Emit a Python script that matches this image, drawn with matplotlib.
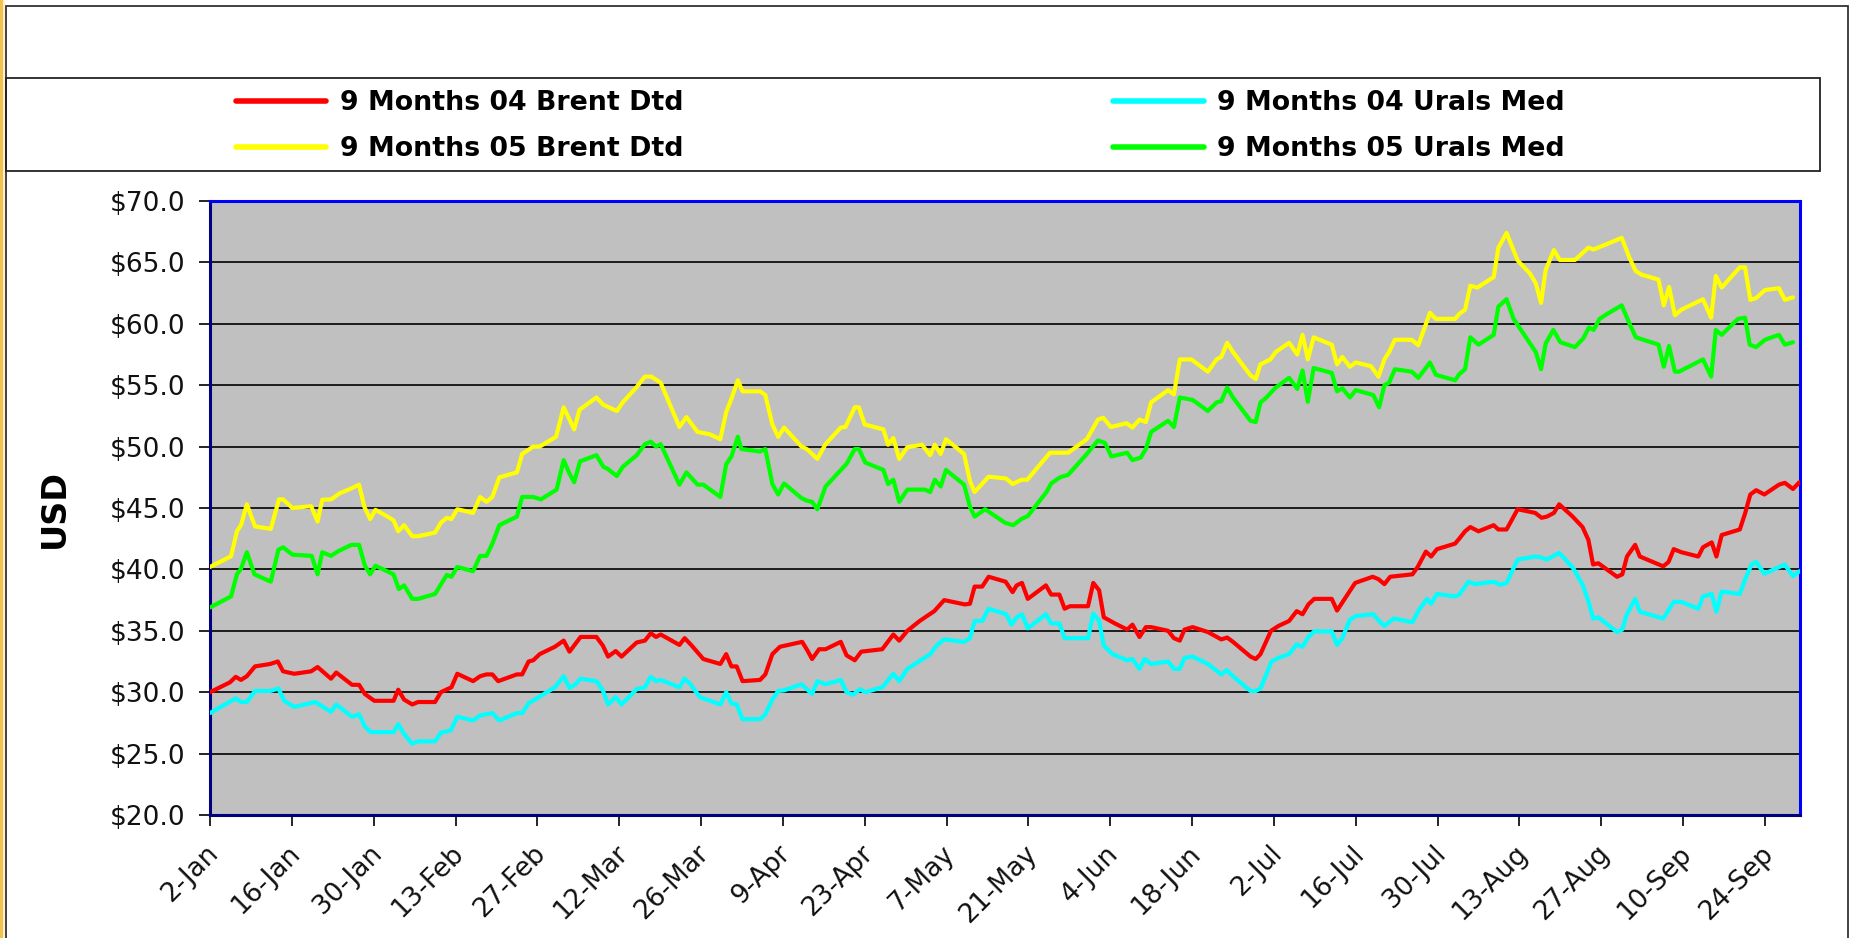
import matplotlib
matplotlib.use("Agg")
import matplotlib.pyplot as plt
import matplotlib.transforms as mtransforms
from matplotlib.patches import Rectangle
from matplotlib.ticker import FuncFormatter, FixedLocator, MultipleLocator

# ---------------- data (x = days after 2-Jan) ----------------
brent04_day = [0, 3.4, 4.4, 5.3, 6.3, 7.7, 10.3, 11.6, 12.5, 14.4, 17.3, 18.4, 20.7, 21.6, 24.3, 25.5, 26.5, 28.1, 31.4, 32.2, 33.2, 34.6, 35.6, 38.5, 39.5, 41.3, 42.3, 45.0, 46.2, 47.3, 48.3, 49.3, 52.5, 53.4, 54.5, 55.3, 56.4, 59.0, 60.5, 61.5, 63.4, 66.1, 67.2, 68.1, 69.4, 70.4, 73.0, 74.4, 75.4, 76.3, 77.1, 80.3, 81.2, 82.4, 84.4, 87.3, 88.3, 89.2, 90.1, 91.1, 94.1, 95.0, 96.2, 97.5, 98.9, 101.3, 102.2, 103.0, 104.2, 105.3, 107.9, 108.9, 110.3, 111.4, 115.0, 116.9, 117.9, 119.3, 121.4, 123.9, 125.6, 129.1, 130.0, 130.8, 132.1, 133.2, 136.1, 137.3, 138.0, 138.9, 139.9, 143.0, 143.9, 145.3, 146.2, 147.1, 150.2, 151.1, 152.1, 152.9, 154.8, 156.9, 157.8, 159.0, 160.1, 161.0, 163.9, 164.9, 165.9, 166.7, 168.1, 170.7, 173.0, 174.0, 175.0, 178.0, 178.9, 179.7, 181.5, 182.8, 184.6, 185.9, 186.9, 187.9, 188.9, 191.9, 192.8, 193.7, 195.9, 198.9, 199.9, 200.9, 201.9, 205.7, 206.6, 208.0, 208.9, 209.9, 213.0, 213.7, 214.7, 215.6, 217.0, 219.6, 220.4, 221.8, 223.7, 226.7, 227.8, 228.7, 229.9, 230.8, 233.0, 234.8, 235.8, 236.6, 237.5, 240.7, 241.6, 242.4, 243.8, 244.6, 248.6, 249.5, 250.4, 251.7, 254.6, 255.4, 256.9, 257.7, 258.6, 261.7, 262.6, 263.5, 264.5, 265.9, 268.4, 269.4, 270.8, 271.9]
brent04_usd = [30.0, 30.8, 31.25, 31.0, 31.3, 32.1, 32.3, 32.5, 31.7, 31.5, 31.7, 32.05, 31.1, 31.6, 30.6, 30.6, 29.85, 29.3, 29.3, 30.2, 29.4, 29.0, 29.2, 29.2, 30.0, 30.4, 31.5, 30.9, 31.3, 31.45, 31.45, 30.9, 31.45, 31.45, 32.5, 32.6, 33.1, 33.7, 34.2, 33.3, 34.5, 34.5, 33.8, 32.9, 33.35, 32.9, 34.05, 34.2, 34.8, 34.5, 34.7, 33.85, 34.4, 33.8, 32.7, 32.3, 33.1, 32.1, 32.1, 30.9, 31.0, 31.45, 33.1, 33.7, 33.85, 34.1, 33.4, 32.7, 33.5, 33.5, 34.1, 33.0, 32.6, 33.3, 33.5, 34.7, 34.2, 35.0, 35.8, 36.6, 37.5, 37.15, 37.2, 38.6, 38.6, 39.4, 39.0, 38.15, 38.7, 38.9, 37.6, 38.7, 37.95, 37.95, 36.8, 37.0, 37.0, 38.9, 38.3, 36.1, 35.6, 35.1, 35.5, 34.5, 35.3, 35.3, 35.0, 34.4, 34.2, 35.1, 35.3, 34.9, 34.3, 34.45, 34.1, 32.9, 32.7, 33.1, 35.0, 35.4, 35.8, 36.6, 36.35, 37.15, 37.6, 37.6, 36.65, 37.3, 38.9, 39.4, 39.2, 38.8, 39.4, 39.6, 40.2, 41.45, 41.05, 41.65, 42.1, 42.5, 43.1, 43.45, 43.1, 43.6, 43.25, 43.25, 44.9, 44.6, 44.2, 44.3, 44.6, 45.3, 44.35, 43.45, 42.4, 40.4, 40.5, 39.4, 39.6, 41.05, 42.0, 41.05, 40.25, 40.6, 41.65, 41.4, 41.05, 41.8, 42.2, 41.05, 42.8, 43.25, 44.55, 46.1, 46.45, 46.1, 46.9, 47.05, 46.55, 47.1]

urals04_day = [0, 4.4, 5.3, 6.3, 7.7, 10.3, 11.7, 12.7, 14.4, 18.0, 20.7, 21.6, 24.3, 25.5, 26.5, 27.5, 31.4, 32.2, 33.2, 34.6, 35.6, 38.5, 39.5, 41.2, 42.3, 45.0, 46.2, 48.3, 49.5, 52.5, 53.4, 54.5, 55.9, 59.0, 60.5, 61.5, 62.4, 63.4, 66.1, 67.2, 68.1, 69.4, 70.4, 73.0, 74.4, 75.4, 76.3, 77.1, 80.3, 81.2, 82.1, 83.8, 87.3, 88.3, 89.2, 90.1, 91.1, 94.1, 95.0, 96.2, 97.2, 98.2, 101.2, 103.0, 103.9, 105.3, 107.9, 108.9, 110.0, 111.2, 112.1, 115.0, 116.9, 117.9, 119.3, 123.2, 124.3, 125.6, 129.0, 130.0, 130.8, 132.1, 133.2, 136.2, 137.1, 138.0, 138.9, 139.9, 143.0, 143.9, 145.3, 146.2, 150.2, 151.1, 152.1, 152.9, 154.4, 156.9, 157.8, 159.0, 159.9, 161.0, 163.9, 164.9, 165.9, 166.7, 168.1, 170.7, 173.0, 173.9, 175.0, 178.0, 178.9, 179.7, 181.6, 182.8, 184.6, 185.9, 186.9, 187.9, 188.9, 191.9, 192.8, 193.7, 195.0, 196.0, 199.0, 200.0, 200.9, 202.5, 205.7, 206.8, 208.2, 208.9, 209.9, 213.0, 213.7, 215.3, 216.4, 219.6, 220.7, 221.8, 223.7, 226.7, 227.5, 228.7, 230.8, 233.2, 234.8, 235.8, 236.6, 237.5, 240.7, 241.6, 242.3, 243.8, 244.6, 248.6, 250.4, 251.7, 254.6, 255.4, 256.9, 257.7, 258.6, 261.7, 262.7, 263.7, 264.5, 265.9, 269.4, 270.8, 271.9]
urals04_usd = [28.3, 29.5, 29.2, 29.2, 30.1, 30.1, 30.3, 29.3, 28.8, 29.2, 28.4, 29.0, 28.0, 28.2, 27.2, 26.75, 26.75, 27.4, 26.6, 25.8, 26.0, 26.0, 26.7, 26.9, 28.0, 27.7, 28.1, 28.3, 27.7, 28.3, 28.3, 29.1, 29.5, 30.4, 31.3, 30.35, 30.6, 31.1, 30.9, 30.15, 29.0, 29.6, 29.0, 30.25, 30.4, 31.25, 30.9, 31.0, 30.4, 31.1, 30.7, 29.6, 29.0, 30.0, 29.1, 29.0, 27.8, 27.8, 28.2, 29.4, 30.1, 30.15, 30.65, 29.85, 30.9, 30.65, 31.0, 30.0, 29.8, 30.25, 30.0, 30.4, 31.5, 30.9, 31.9, 33.1, 33.8, 34.3, 34.1, 34.4, 35.8, 35.8, 36.8, 36.35, 35.5, 36.1, 36.35, 35.2, 36.35, 35.6, 35.6, 34.4, 34.4, 36.4, 35.8, 33.8, 33.1, 32.6, 32.7, 31.9, 32.7, 32.3, 32.5, 31.9, 31.9, 32.8, 32.9, 32.3, 31.45, 31.8, 31.3, 30.1, 30.1, 30.3, 32.5, 32.8, 33.1, 33.9, 33.7, 34.5, 34.95, 34.95, 33.85, 34.4, 35.9, 36.2, 36.35, 35.8, 35.4, 36.0, 35.7, 36.7, 37.6, 37.2, 38.0, 37.8, 37.95, 39.0, 38.8, 39.0, 38.75, 38.9, 40.8, 41.05, 41.0, 40.8, 41.35, 40.1, 38.75, 37.4, 36.0, 36.1, 34.9, 35.1, 36.25, 37.6, 36.55, 36.0, 37.35, 37.35, 36.8, 37.8, 38.0, 36.55, 38.2, 38.0, 39.3, 40.4, 40.6, 39.65, 40.4, 39.45, 39.85]

brent05_day = [0, 3.6, 4.6, 5.3, 6.3, 7.7, 10.4, 11.8, 12.5, 14.1, 17.3, 18.4, 19.2, 20.7, 22.2, 24.2, 25.5, 26.4, 27.4, 28.3, 30.0, 31.4, 32.2, 33.2, 34.6, 35.6, 38.5, 39.5, 40.5, 41.3, 42.3, 45.0, 46.2, 47.3, 48.3, 49.5, 52.5, 53.4, 55.3, 56.4, 59.2, 60.5, 62.3, 63.2, 66.1, 67.3, 69.6, 70.6, 72.9, 74.4, 75.5, 77.1, 80.3, 81.5, 83.4, 85.5, 87.3, 88.3, 89.2, 90.3, 91.1, 94.1, 95.0, 96.2, 97.2, 98.2, 101.2, 102.1, 103.9, 105.3, 107.9, 108.7, 110.3, 111.0, 112.0, 115.2, 116.0, 116.9, 117.9, 119.3, 121.8, 123.2, 124.0, 125.0, 125.9, 129.0, 130.0, 130.8, 133.2, 136.2, 137.3, 138.8, 139.8, 143.7, 146.8, 150.0, 151.9, 152.8, 154.1, 156.8, 157.8, 159.0, 160.1, 161.0, 163.9, 164.9, 165.9, 167.9, 170.7, 172.2, 173.0, 174.0, 175.0, 178.0, 178.9, 179.7, 181.4, 182.3, 184.6, 186.0, 186.9, 187.8, 188.8, 191.9, 192.8, 193.7, 195.0, 196.0, 198.6, 199.9, 200.9, 201.7, 202.7, 205.6, 206.7, 208.7, 209.7, 213.0, 213.7, 214.7, 215.6, 216.8, 219.6, 220.4, 221.8, 223.7, 225.8, 226.8, 227.7, 228.5, 229.9, 230.9, 233.5, 235.8, 236.7, 239.0, 241.5, 242.8, 243.9, 244.9, 247.8, 248.7, 249.6, 250.6, 251.7, 255.4, 256.8, 257.6, 258.6, 261.7, 262.6, 263.5, 264.5, 266.0, 268.4, 269.4, 270.8]
brent05_usd = [40.2, 41.07, 43.1, 43.6, 45.3, 43.5, 43.3, 45.7, 45.7, 45.0, 45.15, 43.9, 45.67, 45.7, 46.2, 46.6, 46.9, 45.1, 44.1, 44.85, 44.4, 44.0, 43.1, 43.6, 42.7, 42.7, 43.0, 43.8, 44.2, 44.1, 44.9, 44.6, 45.9, 45.5, 45.9, 47.5, 47.9, 49.4, 50.0, 50.0, 50.8, 53.2, 51.4, 53.0, 54.0, 53.4, 52.9, 53.6, 54.8, 55.7, 55.7, 55.2, 51.6, 52.4, 51.2, 51.0, 50.6, 52.8, 53.9, 55.4, 54.5, 54.5, 54.2, 51.8, 50.8, 51.55, 50.0, 49.8, 49.0, 50.2, 51.55, 51.6, 53.2, 53.2, 51.8, 51.4, 50.15, 50.7, 49.0, 49.95, 50.15, 49.3, 50.15, 49.4, 50.6, 49.4, 47.2, 46.3, 47.55, 47.4, 46.95, 47.3, 47.3, 49.5, 49.5, 50.6, 52.2, 52.35, 51.6, 51.9, 51.55, 52.2, 52.0, 53.6, 54.6, 54.25, 57.1, 57.1, 56.1, 57.1, 57.3, 58.45, 57.7, 55.8, 55.5, 56.7, 57.1, 57.7, 58.45, 57.5, 59.1, 57.1, 58.9, 58.3, 56.7, 57.3, 56.5, 56.85, 56.55, 55.7, 57.1, 57.7, 58.7, 58.7, 58.25, 60.9, 60.4, 60.4, 60.8, 61.15, 63.1, 62.95, 63.8, 66.2, 67.4, 65.15, 64.1, 63.3, 61.7, 64.4, 66.0, 65.2, 65.2, 66.2, 66.05, 66.5, 67.0, 65.4, 64.3, 64.0, 63.6, 61.5, 63.0, 60.7, 61.15, 62.0, 60.5, 63.9, 62.95, 64.6, 64.6, 61.95, 62.1, 62.75, 62.9, 61.95, 62.15]

urals05_day = [0, 3.6, 4.6, 5.3, 6.3, 7.6, 10.4, 11.7, 12.5, 14.1, 17.4, 18.4, 19.2, 20.7, 22.0, 24.2, 25.5, 26.5, 27.4, 28.3, 31.4, 32.3, 33.2, 34.6, 35.6, 38.5, 40.5, 41.3, 42.3, 45.0, 46.2, 47.3, 48.3, 49.5, 52.5, 53.4, 55.3, 56.6, 59.3, 60.5, 61.5, 62.3, 63.3, 66.1, 67.3, 68.0, 69.6, 70.6, 73.0, 74.4, 75.4, 76.3, 77.1, 80.3, 81.5, 83.4, 84.4, 87.3, 88.3, 89.2, 90.3, 90.9, 94.1, 95.0, 96.2, 97.2, 98.2, 101.2, 102.1, 103.0, 103.9, 105.3, 108.9, 110.3, 111.0, 112.1, 115.2, 116.0, 116.9, 117.9, 119.3, 122.3, 123.2, 124.0, 125.0, 125.9, 129.0, 130.0, 130.8, 132.6, 136.0, 137.4, 138.8, 139.9, 143.1, 143.9, 145.4, 146.8, 150.0, 151.9, 153.1, 154.2, 156.9, 157.8, 159.2, 160.1, 161.0, 163.9, 164.9, 165.9, 168.1, 170.7, 172.2, 173.0, 174.0, 175.0, 178.0, 178.9, 179.7, 180.5, 182.3, 184.6, 186.0, 186.9, 187.8, 188.8, 191.9, 192.8, 193.7, 195.0, 196.0, 199.0, 200.0, 200.9, 201.7, 202.7, 205.6, 206.7, 208.7, 209.7, 213.0, 213.7, 214.7, 215.6, 217.0, 219.6, 220.4, 221.8, 223.0, 225.8, 226.8, 227.7, 228.5, 229.8, 231.0, 233.5, 234.9, 235.9, 236.7, 237.7, 239.0, 241.5, 242.8, 243.9, 247.8, 248.7, 249.6, 250.6, 251.3, 255.4, 256.8, 257.6, 258.6, 261.4, 262.6, 263.4, 264.5, 266.0, 268.4, 269.4, 270.8]
urals05_usd = [36.9, 37.8, 39.6, 40.05, 41.4, 39.6, 39.0, 41.6, 41.8, 41.2, 41.1, 39.6, 41.4, 41.1, 41.5, 42.0, 42.0, 40.3, 39.6, 40.3, 39.6, 38.4, 38.7, 37.6, 37.6, 38.0, 39.55, 39.4, 40.2, 39.85, 41.1, 41.1, 42.1, 43.6, 44.3, 45.9, 45.9, 45.7, 46.5, 48.9, 47.8, 47.1, 48.8, 49.3, 48.35, 48.2, 47.6, 48.35, 49.3, 50.2, 50.4, 50.0, 50.2, 46.9, 47.9, 46.9, 46.9, 45.9, 48.55, 49.2, 50.8, 49.8, 49.6, 49.8, 46.95, 46.1, 47.0, 45.8, 45.6, 45.5, 44.9, 46.75, 48.6, 49.8, 49.8, 48.7, 48.1, 46.95, 47.3, 45.5, 46.5, 46.5, 46.3, 47.3, 46.75, 48.1, 46.9, 45.1, 44.3, 44.9, 43.8, 43.6, 44.1, 44.35, 46.3, 47.0, 47.5, 47.7, 49.4, 50.5, 50.3, 49.2, 49.5, 48.9, 49.1, 49.8, 51.2, 52.1, 51.6, 54.0, 53.8, 52.9, 53.6, 53.7, 54.8, 54.0, 52.1, 52.0, 53.6, 53.9, 54.8, 55.6, 54.7, 56.2, 53.65, 56.4, 56.0, 54.5, 54.75, 54.0, 54.6, 54.2, 53.2, 55.0, 55.2, 56.3, 56.1, 55.6, 56.85, 55.85, 55.4, 55.9, 56.3, 58.9, 58.3, 59.1, 61.4, 62.0, 60.4, 58.4, 57.7, 56.3, 58.4, 59.5, 58.5, 58.1, 58.8, 59.7, 59.5, 60.4, 60.8, 61.5, 60.05, 58.9, 58.3, 56.5, 58.2, 56.1, 56.1, 57.1, 55.7, 59.5, 59.1, 60.4, 60.5, 58.3, 58.1, 58.7, 59.1, 58.3, 58.5]

series_labels = ["9 Months 04 Brent Dtd", "9 Months 04 Urals Med",
                 "9 Months 05 Brent Dtd", "9 Months 05 Urals Med"]
tick_days = [0, 14, 28, 42, 56, 70, 84, 98, 112, 126, 140, 154, 168, 182, 196, 210, 224, 238, 252, 266]
tick_labels = ["2-Jan", "16-Jan", "30-Jan", "13-Feb", "27-Feb", "12-Mar", "26-Mar", "9-Apr",
               "23-Apr", "7-May", "21-May", "4-Jun", "18-Jun", "2-Jul", "16-Jul", "30-Jul",
               "13-Aug", "27-Aug", "10-Sep", "24-Sep"]
y_label = "USD"

# ---------------- figure ----------------
W, H = 1853, 938
fig = plt.figure(figsize=(W / 100, H / 100), dpi=100)
fig.patch.set_facecolor("white")

def fx(px):
    return px / W

def fy(py):
    return 1 - py / H

# outer chart frame and golden left strip
fig.patches.append(Rectangle((0, 0), fx(2.5), 1, transform=fig.transFigure,
                             facecolor="#F2C14E", edgecolor="none", zorder=0))
fig.patches.append(Rectangle((fx(2.5), 0), fx(2.5), 1, transform=fig.transFigure,
                             facecolor="#FFF1C8", edgecolor="none", zorder=0))
fig.patches.append(Rectangle((fx(5.5), fy(945)), fx(1848 - 5.5), fy(6) - fy(945),
                             transform=fig.transFigure, facecolor="none",
                             edgecolor="#333333", linewidth=1.3, zorder=1))
# legend box
fig.patches.append(Rectangle((fx(5.5), fy(171)), fx(1820 - 5.5), fy(78) - fy(171),
                             transform=fig.transFigure, facecolor="none",
                             edgecolor="#222222", linewidth=1.3, zorder=1))

ax = fig.add_axes([fx(210), fy(815), fx(1590), (815 - 201) / H])
ax.set_facecolor("#C0C0C0")

colors = ["#FF0000", "#00FFFF", "#FFFF00", "#00FF00"]
lw = 3.0
kw = dict(lw=lw, solid_joinstyle="round", solid_capstyle="round", zorder=3)
l1, = ax.plot(brent04_day, brent04_usd, color=colors[0], label=series_labels[0], **kw)
l2, = ax.plot(urals04_day, urals04_usd, color=colors[1], label=series_labels[1], **kw)
l3, = ax.plot(brent05_day, brent05_usd, color=colors[2], label=series_labels[2], **kw)
l4, = ax.plot(urals05_day, urals05_usd, color=colors[3], label=series_labels[3], **kw)

ax.set_xlim(0, 272)
ax.set_ylim(20, 70)
ax.yaxis.set_major_locator(MultipleLocator(5))
ax.yaxis.set_major_formatter(FuncFormatter(lambda v, p: "$%.1f" % v))
ax.xaxis.set_major_locator(FixedLocator(tick_days))
ax.set_xticklabels(tick_labels, rotation=45, ha="right", rotation_mode="anchor")

ax.grid(axis="y", color="#000000", linewidth=1.2, zorder=1)
ax.set_axisbelow(True)

for side in ["top", "right"]:
    ax.spines[side].set_color("#0000FF")
    ax.spines[side].set_linewidth(2.2)
for side in ["left", "bottom"]:
    ax.spines[side].set_color("#000080")
    ax.spines[side].set_linewidth(2.2)

ax.tick_params(axis="y", length=8, width=1.2, color="black", pad=10,
               labelsize=19, labelcolor="#111111")
ax.tick_params(axis="x", length=8, width=1.2, color="black", pad=9,
               labelsize=19, labelcolor="#111111")
shift = mtransforms.ScaledTranslation(-5 / 100, -2 / 100, fig.dpi_scale_trans)
for t in ax.get_xticklabels():
    t.set_family("DejaVu Sans")
    t.set_transform(t.get_transform() + shift)
for t in ax.get_yticklabels():
    t.set_family("DejaVu Sans")

ax.set_ylabel(y_label, fontsize=24, fontweight="bold", family="DejaVu Sans", labelpad=28)

leg = fig.legend(handles=[l1, l3, l2, l4], labels=[series_labels[0], series_labels[2],
                                                   series_labels[1], series_labels[3]],
                 ncol=2, loc="upper left", bbox_to_anchor=(fx(236), fy(90)),
                 frameon=False, borderpad=0, borderaxespad=0,
                 prop=dict(family="DejaVu Sans", weight="bold", size=19.3),
                 handlelength=3.37, handletextpad=0.5, columnspacing=16.05,
                 labelspacing=0.76)
for h in leg.legend_handles:
    h.set_linewidth(4)

fig.savefig("out.png", dpi=100, facecolor="white")
